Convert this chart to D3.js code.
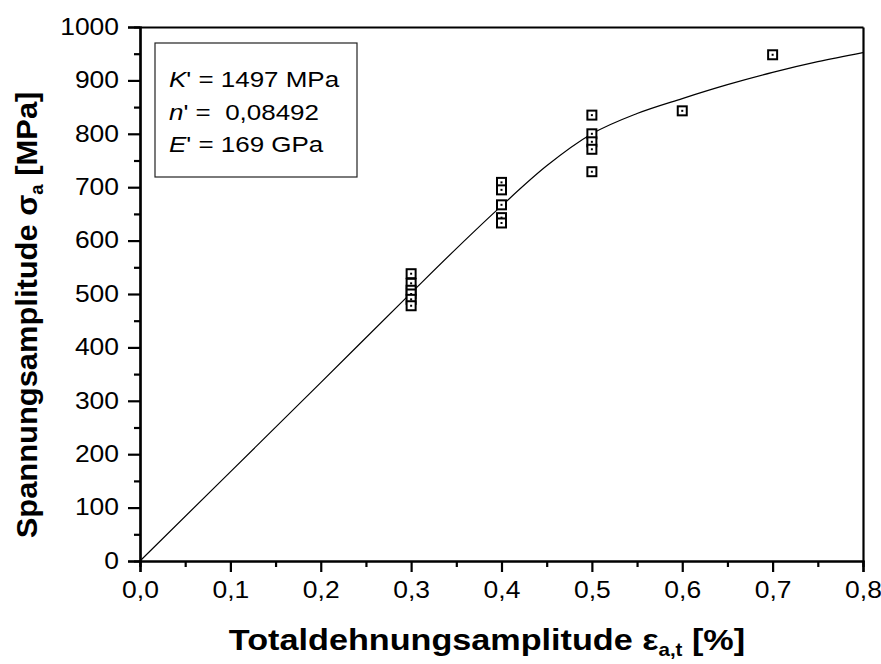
<!DOCTYPE html>
<html>
<head>
<meta charset="utf-8">
<script src="https://cdn.jsdelivr.net/npm/d3@7"></script>
<style>
  body { margin: 0; background: #fff; }
  svg { display: block; font-family: "Liberation Sans", Arial, sans-serif; }
</style>
</head>
<body>
<svg id="canvas" width="881" height="664"></svg>
<script>
// measured points (strain %, stress MPa)
let strain = [0.3, 0.3, 0.3, 0.3, 0.3, 0.3, 0.4, 0.4, 0.4, 0.4, 0.4, 0.5, 0.5, 0.5, 0.5, 0.5, 0.6, 0.7]
let stress = [538, 520, 507, 500, 490, 478, 709, 695, 667, 643, 633, 835, 800, 785, 771, 729, 843, 948]

// fitted curve
let fitStrain = [0, 0.1, 0.2, 0.3, 0.35, 0.4, 0.45, 0.5, 0.55, 0.6, 0.65, 0.7, 0.75, 0.8]
let fitStress = [0, 167, 334, 502, 585, 665, 740, 800, 838, 866, 892, 915, 935, 952]

let xTicks = [0, 0.1, 0.2, 0.3, 0.4, 0.5, 0.6, 0.7, 0.8]
let yTicks = [0, 100, 200, 300, 400, 500, 600, 700, 800, 900, 1000]
let legendLines = [['K', "' = 1497 MPa"], ['n', "' =  0,08492"], ['E', "' = 169 GPa"]]

let canvas = d3.select('#canvas')

let plotLeft = 140, plotRight = 863, plotTop = 27, plotBottom = 561
let stretch = 1.15   // text in the original is a bit wider than Arial

let xScale = d3.scaleLinear().domain([0, 0.8]).range([plotLeft, plotRight])
let yScale = d3.scaleLinear().domain([0, 1000]).range([plotBottom, plotTop])

let comma = (v) => d3.format('.1f')(v).replace('.', ',')

// minor ticks
let xMinor = d3.range(0.05, 0.8, 0.1)
let yMinor = d3.range(50, 1000, 100)

let xAxis = d3.axisBottom(xScale).tickValues(xTicks).tickFormat(comma).tickSize(11).tickPadding(10)
let yAxis = d3.axisLeft(yScale).tickValues(yTicks).tickFormat(d3.format('d')).tickSize(12).tickPadding(9)

let gx = canvas.append('g').attr('transform', 'translate(0,' + plotBottom + ')').call(xAxis)
let gy = canvas.append('g').attr('transform', 'translate(' + plotLeft + ',0)').call(yAxis)

canvas.append('g').attr('transform', 'translate(0,' + plotBottom + ')')
  .call(d3.axisBottom(xScale).tickValues(xMinor).tickSize(6).tickFormat(''))
canvas.append('g').attr('transform', 'translate(' + plotLeft + ',0)')
  .call(d3.axisLeft(yScale).tickValues(yMinor).tickSize(6).tickFormat(''))

// top and right frame lines
canvas.append('g').attr('transform', 'translate(0,' + plotTop + ')')
  .call(d3.axisBottom(xScale).tickValues([]).tickSizeOuter(0))
canvas.append('g').attr('transform', 'translate(' + plotRight + ',0)')
  .call(d3.axisLeft(yScale).tickValues([]).tickSizeOuter(0))

canvas.selectAll('.domain').attr('stroke', '#000').attr('stroke-width', 2.2)
canvas.selectAll('.tick line').attr('stroke', '#000').attr('stroke-width', 2.2)
canvas.selectAll('.tick text').attr('font-size', 23).attr('fill', '#000')
  .attr('font-family', '"Liberation Sans", Arial, sans-serif')
  .attr('transform', 'scale(' + stretch + ',1)')
gy.selectAll('.tick text').attr('x', -21 / stretch)

// fitted curve
let line = d3.line()
  .x((d) => xScale(d[0]))
  .y((d) => yScale(d[1]))
  .curve(d3.curveMonotoneX)

canvas.append('path')
  .datum(d3.zip(fitStrain, fitStress))
  .attr('d', line)
  .attr('fill', 'none')
  .attr('stroke', '#000')
  .attr('stroke-width', 1.2)

// data points
let pts = canvas.append('g').selectAll('g')
  .data(d3.zip(strain, stress))
  .enter()
  .append('g')
  .attr('transform', (d) => 'translate(' + xScale(d[0]) + ',' + yScale(d[1]) + ')')

pts.append('rect')
  .attr('x', -4.5).attr('y', -4.5)
  .attr('width', 9).attr('height', 9)
  .attr('fill', '#fff')
  .attr('stroke', '#000')
  .attr('stroke-width', 2)
pts.append('rect')
  .attr('x', -1).attr('y', -1)
  .attr('width', 2).attr('height', 2)
  .attr('fill', '#000')

// legend box
canvas.append('rect')
  .attr('x', 155).attr('y', 43)
  .attr('width', 202).attr('height', 134)
  .attr('fill', '#fff')
  .attr('stroke', '#222')
  .attr('stroke-width', 1.2)

let legendText = canvas.append('g')
  .attr('transform', 'translate(169,0) scale(1.18,1)')
  .selectAll('text')
  .data(legendLines)
  .enter()
  .append('text')
  .attr('x', 0)
  .attr('y', (d, i) => [87, 120, 152][i])
  .attr('font-size', 22)
  .style('white-space', 'pre')
legendText.append('tspan').attr('font-style', 'italic').text((d) => d[0])
legendText.append('tspan').text((d) => d[1])

// axis titles
let xTitle = canvas.append('text')
  .attr('transform', 'translate(487,650) scale(1.14,1)')
  .attr('text-anchor', 'middle')
  .attr('font-size', 30)
  .attr('font-weight', 'bold')
xTitle.append('tspan').text('Totaldehnungsamplitude ε')
xTitle.append('tspan').attr('font-size', 18).attr('dy', 6).text('a,t')
xTitle.append('tspan').attr('dy', -6).text(' [%]')

let yTitle = canvas.append('text')
  .attr('transform', 'translate(37,315) rotate(-90) scale(1.03,1)')
  .attr('text-anchor', 'middle')
  .attr('font-size', 30)
  .attr('font-weight', 'bold')
yTitle.append('tspan').text('Spannungsamplitude σ')
yTitle.append('tspan').attr('font-size', 18).attr('dy', 6).text('a')
yTitle.append('tspan').attr('dy', -6).text(' [MPa]')
</script>
</body>
</html>
